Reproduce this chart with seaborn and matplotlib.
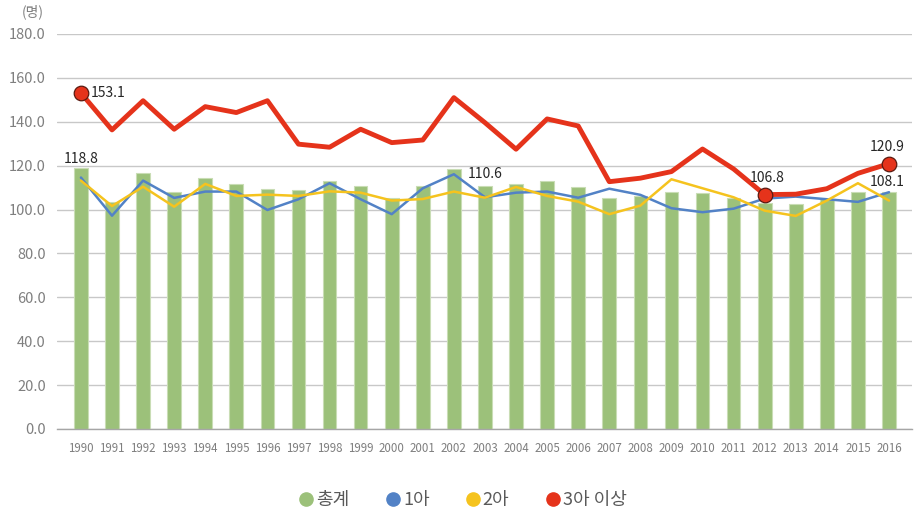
import numpy as np
import pandas as pd
import matplotlib
matplotlib.use("Agg")
import matplotlib.pyplot as plt
from matplotlib.lines import Line2D
import seaborn as sns

years = [str(y) for y in range(1990, 2017)]

# 총계 (bars)
total = [118.8, 103.6, 116.5, 108.2, 114.3, 111.7, 109.5, 108.9, 113.0, 110.9,
         105.3, 110.8, 118.5, 110.6, 111.7, 113.0, 110.3, 105.3, 106.2, 108.2,
         107.4, 105.3, 103.2, 102.5, 105.0, 108.2, 108.1]
# 1아
first = [114.6, 97.2, 113.2, 105.3, 108.2, 108.2, 99.8, 104.7, 112.0, 104.7,
         97.9, 109.7, 116.1, 105.6, 107.7, 108.2, 105.4, 109.5, 106.7, 100.6,
         98.8, 100.4, 105.0, 105.9, 104.7, 103.5, 107.9]
# 2아
second = [113.2, 101.6, 110.4, 101.3, 111.7, 106.2, 106.8, 106.2, 108.3, 107.7,
          104.1, 104.8, 108.2, 105.4, 110.3, 106.2, 103.6, 97.9, 101.8, 113.8,
          109.7, 105.6, 99.5, 97.1, 104.1, 112.0, 104.1]
# 3아 이상
third = [153.1, 136.3, 149.6, 136.6, 146.9, 144.2, 149.6, 129.8, 128.4, 136.6,
         130.5, 131.7, 151.0, 139.6, 127.5, 141.3, 138.1, 112.7, 114.3, 117.3,
         127.6, 118.5, 106.8, 107.0, 109.5, 116.5, 120.9]

series_names = ["총계", "1아", "2아", "3아 이상"]
yticks = [0, 20, 40, 60, 80, 100, 120, 140, 160, 180]

GREEN = "#9CC17A"
BLUE = "#5282C6"
YELLOW = "#F5C31E"
RED = "#E5331B"
GRID = "#C8C8C8"
TICK = "#7F7F7F"
TXT = "#262626"

sns.set_theme(style="white")
plt.rcParams["font.family"] = ["Noto Sans CJK KR", "DejaVu Sans"]

df = pd.DataFrame({"year": years, "total": total, "first": first,
                   "second": second, "third": third})
df["pos"] = np.arange(len(years))

fig = plt.figure(figsize=(9.15, 5.15), dpi=100)
ax = fig.add_axes([57 / 915, 1 - 429 / 515, (912 - 57) / 915, (429 - 34) / 515])

sns.barplot(data=df, x="year", y="total", order=years, color=GREEN,
            width=0.44, saturation=1, edgecolor="#C9DDB5", linewidth=0.8,
            ax=ax, zorder=2)

sns.lineplot(data=df, x="pos", y="first", color=BLUE, lw=1.8, ax=ax, zorder=3)
sns.lineplot(data=df, x="pos", y="second", color=YELLOW, lw=1.8, ax=ax, zorder=3)
sns.lineplot(data=df, x="pos", y="third", color=RED, lw=3.5, ax=ax, zorder=4)

# highlighted points on the 3아 이상 series
hi = [0, 22, 26]
ax.scatter(df["pos"].iloc[hi], df["third"].iloc[hi], s=110, color=RED,
           edgecolor="#5a1a10", linewidth=0.9, zorder=5)

ax.set_xlim(-0.77, 26.74)
ax.set_ylim(0, 180)
ax.set_yticks(yticks)
ax.set_yticklabels([f"{v:.1f}" for v in yticks], color=TICK, fontsize=10.5)
ax.tick_params(axis="x", labelsize=8.3, colors=TICK, length=0, pad=9)
ax.tick_params(axis="y", length=0, pad=8)
ax.set_xlabel("")
ax.set_ylabel("")
ax.yaxis.grid(True, color=GRID, lw=1.0)
ax.set_axisbelow(True)
for s in ["top", "right", "left"]:
    ax.spines[s].set_visible(False)
ax.spines["bottom"].set_color("#A6A6A6")
ax.spines["bottom"].set_linewidth(1.0)

fig.text(22 / 915, 1 - 12 / 515, "(명)", color=TICK, fontsize=10,
         ha="left", va="center")

# value labels
lab = dict(fontsize=10, color=TXT, zorder=6)
ax.annotate(f"{third[0]:.1f}", (0, third[0]), xytext=(7, 0),
            textcoords="offset points", ha="left", va="center", **lab)
ax.annotate(f"{total[0]:.1f}", (0, total[0]), xytext=(0, 2),
            textcoords="offset points", ha="center", va="bottom", **lab)
ax.annotate(f"{total[13]:.1f}", (13, total[13]), xytext=(0, 4),
            textcoords="offset points", ha="center", va="bottom", **lab)
ax.annotate(f"{third[22]:.1f}", (22, third[22]), xytext=(2, 7),
            textcoords="offset points", ha="center", va="bottom", **lab)
ax.annotate(f"{third[26]:.1f}", (26, third[26]), xytext=(-1, 7),
            textcoords="offset points", ha="center", va="bottom", **lab)
ax.annotate(f"{total[26]:.1f}", (26, total[26]), xytext=(-1, 2),
            textcoords="offset points", ha="center", va="bottom", **lab)

handles = [Line2D([], [], marker="o", ls="", markersize=9.5, color=c)
           for c in [GREEN, BLUE, YELLOW, RED]]
leg = fig.legend(handles, series_names, loc="center", ncol=4,
                 bbox_to_anchor=(462 / 915, 1 - 500 / 515), frameon=False,
                 fontsize=13, handletextpad=0.05, columnspacing=1.9,
                 handlelength=1.0)
for t in leg.get_texts():
    t.set_color("#595959")

fig.savefig("out.png", dpi=100)
